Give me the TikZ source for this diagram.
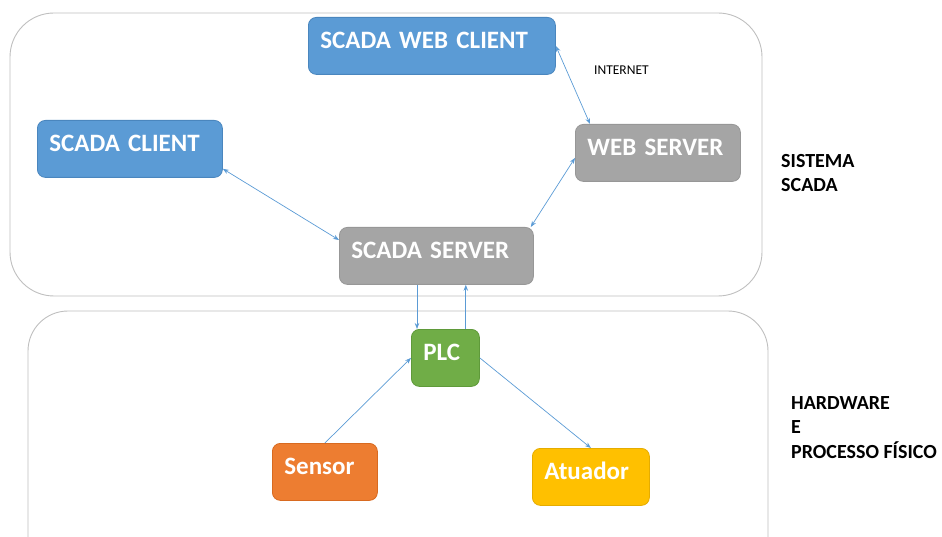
\documentclass[tikz,border=0pt]{standalone}
\usepackage{fontspec}
\setmainfont{Carlito}
\usetikzlibrary{arrows.meta,positioning,calc}

\definecolor{cliblue}{HTML}{5B9BD5}
\definecolor{cliedge}{HTML}{4A86BE}
\definecolor{srvgray}{HTML}{A5A5A5}
\definecolor{srvedge}{HTML}{979797}
\definecolor{plcgreen}{HTML}{70AD47}
\definecolor{plcedge}{HTML}{5F9A3A}
\definecolor{senorange}{HTML}{ED7D31}
\definecolor{senedge}{HTML}{D86A20}
\definecolor{atugold}{HTML}{FFC000}
\definecolor{atuedge}{HTML}{E5AC00}
\definecolor{framegray}{HTML}{BFBFBF}

\tikzset{
  block/.style={draw, rounded corners=8pt, line width=0.8pt, text=white,
    anchor=north west, align=left, inner xsep=12pt, minimum height=57pt,
    text height=16pt, text depth=11pt,
    font=\fontsize{25}{28}\selectfont\bfseries},
  link/.style={draw=cliblue, line width=0.7pt,
    -{Stealth[length=6pt,width=4.5pt]}},
  twoway/.style={link, {Stealth[length=6pt,width=4.5pt]}-{Stealth[length=6pt,width=4.5pt]}},
  frame/.style={draw=framegray, line width=0.9pt, rounded corners=44pt},
  side/.style={anchor=north west, align=left, inner sep=0pt,
    font=\fontsize{20}{24.5}\selectfont\bfseries},
}

\begin{document}
\begin{tikzpicture}[x=1pt,y=-1pt]
  \useasboundingbox (0,0) rectangle (942,537);

  % the two areas
  \draw[frame] (10,13) rectangle (762,296);
  \draw[frame, rounded corners=40pt] (28,311) rectangle (768,580);

  % SCADA side
  \node[block, fill=cliblue, draw=cliedge, text width=223pt] (wclient) at (308,17) {SCADA WEB CLIENT};
  \node[block, fill=cliblue, draw=cliedge, text width=161pt] (sclient) at (37,120) {SCADA CLIENT};
  \node[block, fill=srvgray, draw=srvedge, text width=141pt] (wserver) at (575,124) {WEB SERVER};
  \node[block, fill=srvgray, draw=srvedge, text width=170pt] (sserver) at (339,227) {SCADA SERVER};

  % hardware side
  \node[block, fill=plcgreen, draw=plcedge, text width=44pt] (plc) at (411,329) {PLC};
  \node[block, fill=senorange, draw=senedge, text width=81pt] (sensor) at (272,443) {Sensor};
  \node[block, fill=atugold, draw=atuedge, text width=93pt] (atuador) at (532,448) {Atuador};

  % labels
  \node[anchor=north west, inner sep=0pt, font=\fontsize{13.5}{16}\selectfont] (inet) at (594,66) {INTERNET};
  \node[side] (sistema) at (781,154) {SISTEMA\\SCADA};
  \node[side] (hw) at (791,396) {HARDWARE\\E\\PROCESSO FÍSICO};

  % connections
  \coordinate (plcin) at ([xshift=6pt]plc.north west);
  \coordinate (plcout) at ([xshift=-14pt]plc.north east);
  \draw[twoway] (wclient.east) -- ([xshift=15pt]wserver.north west);
  \draw[twoway] ([yshift=9pt]sclient.south east) -- ([yshift=-13pt]sserver.north west);
  \draw[twoway] ([xshift=-3pt]sserver.north east) -- ([yshift=-5pt]wserver.west);
  \draw[link] (sserver.south -| plcin) -- (plcin);
  \draw[link] (plcout) -- (sserver.south -| plcout);
  \draw[link] (sensor.north) -- (plc.west);
  \draw[link] (plc.east) -- (atuador.north);
\end{tikzpicture}
\end{document}
